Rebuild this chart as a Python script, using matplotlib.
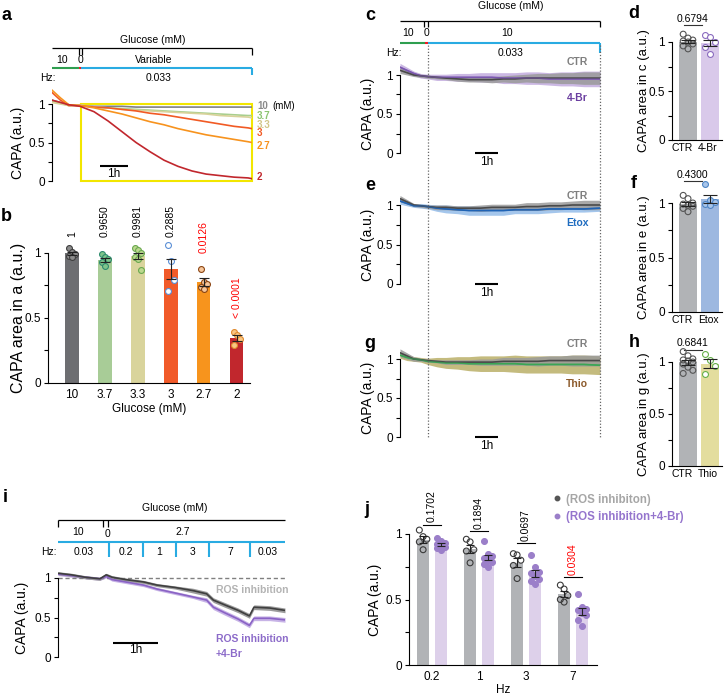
import numpy as np
import matplotlib
matplotlib.use('Agg')
import matplotlib.pyplot as plt
from matplotlib.lines import Line2D
from matplotlib.patches import Rectangle
from matplotlib.transforms import blended_transform_factory, ScaledTranslation

plt.rcParams['font.family'] = ['Liberation Sans', 'DejaVu Sans']
plt.rcParams['font.size'] = 8
plt.rcParams['axes.linewidth'] = 0.8

# ---------------- data ----------------
# a: CAPA traces, glucose steps (mM), time in hours
a_time = [0, 0.3, 0.6, 1.0, 1.5, 2.0, 2.5, 3.0, 3.5, 4.0, 4.5, 5.0, 5.5, 6.0, 6.5, 7.0, 7.14]
a_g10 = [1.05, 1.02, 0.99, 0.98, 0.97, 0.97, 0.97, 0.96, 0.96, 0.96, 0.96, 0.96, 0.96, 0.96, 0.96, 0.96, 0.96]
a_g37 = [1.03, 1.01, 0.98, 0.98, 0.96, 0.95, 0.94, 0.93, 0.92, 0.91, 0.90, 0.89, 0.88, 0.87, 0.86, 0.85, 0.85]
a_g33 = [1.02, 1.00, 0.98, 0.99, 0.96, 0.95, 0.93, 0.92, 0.91, 0.90, 0.89, 0.88, 0.87, 0.85, 0.84, 0.83, 0.82]
a_g3 = [1.15, 1.05, 0.98, 0.98, 0.96, 0.95, 0.93, 0.91, 0.88, 0.86, 0.83, 0.80, 0.77, 0.74, 0.71, 0.69, 0.68]
a_g27 = [1.18, 1.08, 0.99, 0.98, 0.95, 0.91, 0.87, 0.82, 0.77, 0.73, 0.68, 0.64, 0.60, 0.57, 0.54, 0.51, 0.50]
a_g2 = [1.05, 1.02, 0.99, 0.97, 0.90, 0.78, 0.64, 0.50, 0.38, 0.27, 0.19, 0.13, 0.09, 0.07, 0.05, 0.04, 0.03]
a_switch = 1.04

# b: CAPA area per glucose
b_labels = ['10', '3.7', '3.3', '3', '2.7', '2']
b_points = [
    [1.04, 1.01, 0.99, 0.98, 0.97],
    [0.99, 0.97, 0.95, 0.93, 0.90],
    [1.04, 1.02, 1.00, 0.97, 0.95, 0.87],
    [1.06, 0.94, 0.79, 0.71],
    [0.88, 0.78, 0.76, 0.74, 0.72],
    [0.39, 0.37, 0.34, 0.29],
]
b_pvals = ['1', '0.9650', '0.9981', '0.2885', '0.0126', '< 0.0001']

# c, e, g: CTR vs treatment traces
ceg_time = [0, 0.3, 0.6, 0.9, 1.2, 1.6, 2.0, 2.5, 3.0, 3.5, 4.0, 4.5, 5.0, 5.5, 6.0, 6.5, 7.0, 7.5, 8.0, 8.7]
c_ctr = [1.06, 1.03, 1.00, 0.99, 0.98, 0.97, 0.96, 0.95, 0.94, 0.94, 0.94, 0.95, 0.95, 0.96, 0.96, 0.96, 0.96, 0.96, 0.96, 0.96]
c_ctr_sem = [0.04, 0.03, 0.02, 0.02, 0.02, 0.02, 0.02, 0.03, 0.03, 0.03, 0.04, 0.04, 0.05, 0.05, 0.06, 0.06, 0.07, 0.07, 0.08, 0.08]
c_br = [1.10, 1.06, 1.02, 0.99, 0.98, 0.97, 0.97, 0.97, 0.97, 0.97, 0.97, 0.96, 0.96, 0.96, 0.96, 0.95, 0.95, 0.95, 0.95, 0.95]
c_br_sem = [0.05, 0.04, 0.03, 0.03, 0.03, 0.04, 0.04, 0.05, 0.05, 0.06, 0.06, 0.07, 0.07, 0.08, 0.08, 0.08, 0.09, 0.09, 0.10, 0.10]
e_ctr = [1.08, 1.04, 1.00, 0.99, 0.98, 0.97, 0.97, 0.96, 0.96, 0.96, 0.97, 0.97, 0.97, 0.98, 0.98, 0.99, 0.99, 1.00, 1.00, 1.00]
e_ctr_sem = [0.04, 0.03, 0.02, 0.02, 0.02, 0.03, 0.03, 0.03, 0.03, 0.04, 0.04, 0.04, 0.04, 0.05, 0.05, 0.05, 0.05, 0.05, 0.06, 0.06]
e_etox = [1.05, 1.02, 0.99, 0.99, 0.98, 0.96, 0.95, 0.94, 0.93, 0.93, 0.93, 0.93, 0.94, 0.94, 0.94, 0.95, 0.95, 0.95, 0.95, 0.96]
e_etox_sem = [0.04, 0.03, 0.02, 0.03, 0.03, 0.04, 0.05, 0.05, 0.06, 0.06, 0.06, 0.06, 0.05, 0.05, 0.05, 0.05, 0.04, 0.04, 0.04, 0.04]
g_ctr = [1.08, 1.04, 1.00, 0.99, 0.98, 0.97, 0.96, 0.96, 0.96, 0.96, 0.96, 0.97, 0.97, 0.97, 0.97, 0.98, 0.98, 0.98, 0.98, 0.98]
g_ctr_sem = [0.05, 0.04, 0.03, 0.02, 0.02, 0.02, 0.03, 0.03, 0.03, 0.04, 0.04, 0.05, 0.05, 0.05, 0.06, 0.06, 0.06, 0.07, 0.07, 0.07]
g_thio = [1.05, 1.02, 1.00, 0.99, 0.97, 0.96, 0.95, 0.95, 0.94, 0.94, 0.94, 0.94, 0.94, 0.93, 0.93, 0.93, 0.93, 0.93, 0.93, 0.92]
g_thio_sem = [0.04, 0.04, 0.03, 0.03, 0.04, 0.06, 0.07, 0.08, 0.09, 0.10, 0.10, 0.10, 0.11, 0.11, 0.11, 0.11, 0.11, 0.12, 0.12, 0.12]
ceg_switch = 1.22

# d, f, h: CAPA area CTR vs treatment
d_ctr = [1.08, 1.04, 1.02, 1.01, 1.00, 0.98, 0.96, 0.93]
d_br = [1.07, 1.05, 1.00, 0.95, 0.88]
f_ctr = [1.07, 1.04, 1.00, 0.99, 0.98, 0.97, 0.95, 0.92]
f_etox = [1.17, 1.03, 1.01, 0.99, 0.98]
h_ctr = [1.10, 1.06, 1.03, 1.02, 1.01, 1.00, 0.98, 0.95, 0.92, 0.89]
h_thio = [1.08, 1.02, 0.96, 0.88]
dfh_pvals = ['0.6794', '0.4300', '0.6841']

# i: frequency steps at 2.7 mM glucose
i_time = [0, 0.3, 0.6, 0.93, 1.07, 1.2, 1.5, 1.9, 2.2, 2.6, 3.0, 3.3, 3.45, 3.7, 4.0, 4.25, 4.35, 4.7, 5.04]
i_ros = [1.06, 1.04, 1.01, 0.99, 1.04, 1.01, 0.98, 0.95, 0.91, 0.88, 0.84, 0.80, 0.72, 0.66, 0.59, 0.52, 0.63, 0.62, 0.59]
i_ros_sem = [0.02, 0.02, 0.02, 0.02, 0.02, 0.02, 0.02, 0.02, 0.02, 0.02, 0.03, 0.03, 0.03, 0.03, 0.03, 0.03, 0.03, 0.03, 0.03]
i_br = [1.05, 1.03, 1.01, 0.99, 1.02, 0.98, 0.95, 0.91, 0.86, 0.81, 0.76, 0.72, 0.63, 0.56, 0.48, 0.40, 0.49, 0.49, 0.47]
i_br_sem = [0.02, 0.02, 0.02, 0.02, 0.02, 0.02, 0.02, 0.02, 0.02, 0.02, 0.02, 0.03, 0.03, 0.03, 0.03, 0.03, 0.03, 0.03, 0.03]
i_edges = [0, 1.13, 1.89, 2.62, 3.36, 4.27, 5.04]
i_hz = ['0.03', '0.2', '1', '3', '7', '0.03']

# j: CAPA per frequency
j_hz = ['0.2', '1', '3', '7']
j_ros = [
    [1.03, 0.98, 0.96, 0.94, 0.88],
    [0.96, 0.94, 0.88, 0.87, 0.78],
    [0.85, 0.84, 0.80, 0.76, 0.66],
    [0.61, 0.58, 0.53, 0.50, 0.48],
]
j_br = [
    [0.97, 0.95, 0.93, 0.92, 0.91, 0.90, 0.89, 0.88],
    [0.95, 0.85, 0.83, 0.82, 0.80, 0.79, 0.77, 0.75],
    [0.84, 0.75, 0.71, 0.70, 0.68, 0.66, 0.64, 0.62],
    [0.54, 0.44, 0.43, 0.42, 0.40, 0.38, 0.34, 0.30],
]
j_pvals = ['0.1702', '0.1894', '0.0697', '0.0304']

# ---------------- layout helpers ----------------
W, H = 724, 697
fig = plt.figure(figsize=(W / 100, H / 100), dpi=100)
CYAN, GREEN, RED = '#29abe2', '#2e9e4f', '#ed1c24'


def place(x_px, xlim, y_cal, ylim, trace=True):
    p0, p1 = y_cal
    ppu = p0 - p1
    bot = p0 - ylim[0] * ppu
    top = p0 - ylim[1] * ppu
    ax = fig.add_axes([x_px[0] / W, 1 - bot / H, (x_px[1] - x_px[0]) / W, (bot - top) / H])
    ax.set_xlim(xlim)
    ax.set_ylim(ylim)
    ax.patch.set_visible(False)
    for s in ['top', 'right']:
        ax.spines[s].set_visible(False)
    ax.spines['left'].set_bounds(0, 1)
    ax.set_yticks([0, 0.5, 1])
    ax.set_yticklabels(['0', '0.5', '1'])
    ax.set_yticks([0.25, 0.75], minor=True)
    ax.tick_params(axis='y', which='both', length=3, width=0.8, labelsize=8.5, pad=2)
    if trace:
        ax.spines['bottom'].set_visible(False)
        ax.set_xticks([])
    else:
        ax.tick_params(axis='x', length=0, labelsize=8.5, pad=4)
    return ax


def ylab(ax, text, x_px, size):
    pos = ax.get_position()
    y0, y1 = ax.get_ylim()
    ax.set_ylabel(text, fontsize=size)
    ax.yaxis.set_label_coords((x_px / W - pos.x0) / pos.width, (0.5 - y0) / (y1 - y0))


def header(ax, top, bot):
    pos = ax.get_position()
    hx = fig.add_axes([pos.x0, 1 - bot / H, pos.width, (bot - top) / H])
    hx.set_xlim(ax.get_xlim())
    hx.set_ylim(bot, top)
    hx.axis('off')
    return hx


def hline(hx, x0, x1, y, color='black', lw=0.9):
    hx.plot([x0, x1], [y, y], color=color, lw=lw, clip_on=False, solid_capstyle='butt')


def vline(hx, x, y0, y1, color='black', lw=0.9):
    hx.plot([x, x], [y0, y1], color=color, lw=lw, clip_on=False, solid_capstyle='butt')


def letter(x, y, s):
    fig.text(x / W, 1 - y / H, s, fontsize=13, fontweight='bold', ha='center', va='center')


def band(ax, t, m, s, lc, fc, alpha=1.0):
    m = np.array(m)
    s = np.array(s)
    ax.fill_between(t, m - s, m + s, color=fc, lw=0, alpha=alpha)
    ax.plot(t, m, color=lc, lw=1.2)


def scalebar(ax, t0, y, ytxt):
    ax.plot([t0, t0 + 1], [y, y], color='black', lw=1.5, clip_on=False, solid_capstyle='butt')
    ax.text(t0 + 0.5, ytxt, '1h', ha='center', va='center', fontsize=8.5, clip_on=False)


def bar_pts(ax, x, vals, color, width, face, edge, spread, cap=3.5):
    v = np.array(vals)
    m = v.mean()
    se = v.std(ddof=1) / np.sqrt(len(v))
    ax.bar(x, m, width, color=color, zorder=1)
    offs = ((np.arange(len(v)) % 3) - 1) * spread
    ax.scatter(x + offs, v, s=18, facecolors=face, edgecolors=edge, linewidths=0.8, zorder=3, clip_on=False)
    ax.errorbar(x, m, yerr=se, fmt='none', ecolor='#222222', elinewidth=0.8, capsize=cap, capthick=0.8, zorder=4)


# ---------------- panel a ----------------
ax_a = place((52, 252), (0, 7.14), (181, 104), (0, 1.25))
a_end = 7.14
ax_a.add_patch(Rectangle((a_switch, 0), a_end - a_switch, 1, fill=False, ec='#f2e600', lw=1.5, zorder=1, clip_on=False))
a_series = [(a_g10, '#808285', '10'), (a_g37, '#a8cf8e', '3.7'), (a_g33, '#d8d29a', '3.3'),
            (a_g3, '#f15a24', '3'), (a_g27, '#f7931e', '2.7'), (a_g2, '#c1272d', '2')]
a_lab_y = [0.97, 0.84, 0.73, 0.62, 0.45, 0.05]
a_lab_c = ['#8a8a8a', '#8dc472', '#d2c688', '#f15a24', '#f7931e', '#c1272d']
for (vals, col, lab), ly, lc in zip(a_series, a_lab_y, a_lab_c):
    ax_a.plot(a_time, vals, color=col, lw=1.2, zorder=2)
    ax_a.text(a_end + 0.18, ly, lab, color=lc, fontsize=7, fontweight='bold', va='center', clip_on=False)
ax_a.text(a_end + 0.72, 0.97, '(mM)', fontsize=7, va='center', clip_on=False)
scalebar(ax_a, 1.71, 0.19, 0.09)
ylab(ax_a, 'CAPA (a.u.)', 25, 10)

ha = header(ax_a, 30, 82)
ha.text(3.6, 40, 'Glucose (mM)', ha='center', va='center', fontsize=7.5)
hline(ha, 0, a_end, 48)
vline(ha, a_end, 48, 55)
vline(ha, 0.96, 48, 55)
vline(ha, 1.07, 48, 55)
ha.text(0.36, 60, '10', ha='center', va='center', fontsize=7.5)
ha.text(1.0, 60, '0', ha='center', va='center', fontsize=7.5)
ha.text(3.64, 60, 'Variable', ha='center', va='center', fontsize=7.5)
hline(ha, 0, 0.96, 68, GREEN, 1.5)
hline(ha, 0.96, a_switch, 68, RED, 1.5)
hline(ha, a_switch, a_end, 68, CYAN, 1.5)
vline(ha, a_end, 68, 75, CYAN, 1.5)
ha.text(-0.14, 78, 'Hz:', ha='center', va='center', fontsize=7.5)
ha.text(3.8, 78, '0.033', ha='center', va='center', fontsize=7.5)
letter(6, 15, 'a')

# ---------------- panel b ----------------
ax_b = place((48, 250), (-0.73, 5.4), (383, 253), (0, 1.25), trace=False)
b_cols = ['#6d6e71', '#a8cc97', '#d9d49c', '#f15a29', '#f7941d', '#c1272d']
b_face = ['#8c8c8c', '#7fc48a', '#bcd98e', 'white', '#f6c79c', '#f9c784']
b_edge = ['#404040', '#2e8b6e', '#6aa84f', '#5b8fd6', '#8b4513', '#e08a2e']
for k, pts in enumerate(b_points):
    bar_pts(ax_b, k, pts, b_cols[k], 0.4, b_face[k], b_edge[k], 0.09)
b_p_y = [1.12, 1.12, 1.12, 1.12, 1.0, 0.5]
for k, (p, py) in enumerate(zip(b_pvals, b_p_y)):
    ax_b.text(k, py, p, rotation=90, ha='center', va='bottom', fontsize=7.5,
              color='#ff0000' if k >= 4 else 'black', clip_on=False)
ax_b.set_xticks(range(len(b_labels)))
ax_b.set_xticklabels(b_labels)
ax_b.set_xlabel('Glucose (mM)', fontsize=8.5, labelpad=2)
ylab(ax_b, 'CAPA area in a (a.u.)', 26, 11.5)
letter(6, 217, 'b')

# ---------------- panels c, e, g ----------------
ceg = [
    ('c', (153, 75), c_ctr, c_ctr_sem, c_br, c_br_sem, '#7b57b0', '#cbb8e3', '4-Br', '#6b3fa0', 1.17, 0.71, 15),
    ('e', (284, 205), e_ctr, e_ctr_sem, e_etox, e_etox_sem, '#1f63b5', '#a4c6ec', 'Etox', '#1f6cc0', 1.11, 0.77, 185),
    ('g', (437, 359), g_ctr, g_ctr_sem, g_thio, g_thio_sem, '#3aa655', '#c4bb7e', 'Thio', '#8c5a2b', 1.19, 0.68, 343),
]
ceg_axes = []
for name, cal, ctr, ctr_s, trt, trt_s, lc, fc, tname, tcol, cy, ty, ly in ceg:
    ax = place((400, 600), (0, 8.7), cal, (0, 1.2))
    band(ax, ceg_time, trt, trt_s, lc, fc)
    m = np.array(ctr)
    s = np.array(ctr_s)
    ax.fill_between(ceg_time, m - s, m + s, color='#9a9a9a', lw=0, alpha=0.85)
    ax.plot(ceg_time, ctr, color='#4a4a4a', lw=1.2)
    ax.plot(ceg_time, trt, color=lc, lw=1.0, alpha=0.6)
    ax.text(7.7, cy, 'CTR', color='#7f7f7f', fontsize=7.5, fontweight='bold', ha='center', va='center')
    ax.text(7.7, ty, tname, color=tcol, fontsize=7.5, fontweight='bold', ha='center', va='center')
    scalebar(ax, 3.26, 0, -0.115)
    ylab(ax, 'CAPA (a.u.)', 375, 10)
    letter(370, ly, name)
    ceg_axes.append(ax)

ax_c = ceg_axes[0]
c_end = 8.7
hc = header(ax_c, 0, 60)
hc.text(4.8, 6, 'Glucose (mM)', ha='center', va='center', fontsize=7.5)
hline(hc, 0, c_end, 21)
vline(hc, c_end, 21, 27)
vline(hc, 1.06, 21, 27)
vline(hc, 1.2, 21, 27)
hc.text(0.35, 33, '10', ha='center', va='center', fontsize=7.5)
hc.text(1.17, 33, '0', ha='center', va='center', fontsize=7.5)
hc.text(4.65, 33, '10', ha='center', va='center', fontsize=7.5)
hline(hc, 0, 1.1, 43, GREEN, 1.5)
hline(hc, 1.1, ceg_switch, 43, RED, 1.5)
hline(hc, ceg_switch, c_end, 43, CYAN, 1.5)
vline(hc, c_end, 43, 53, CYAN, 1.5)
hc.text(-0.26, 53, 'Hz:', ha='center', va='center', fontsize=7.5)
hc.text(4.8, 53, '0.033', ha='center', va='center', fontsize=7.5)

tr = blended_transform_factory(ax_c.transData, fig.transFigure)
for t in [ceg_switch, c_end]:
    fig.add_artist(Line2D([t, t], [1 - 45 / H, 1 - 438 / H], transform=tr, color='#666666',
                          lw=0.9, ls=(0, (1, 1.5))))

# ---------------- panels d, f, h ----------------
dfh = [
    ('d', (140, 42), d_ctr, d_br, '#d9c9ea', 'white', '#8a6bbf', ['CTR', '4-Br'], 'c', 1.17, 13),
    ('f', (312, 203), f_ctr, f_etox, '#9db8e0', '#a9c6ea', '#4f86c6', ['CTR', 'Etox'], 'e', 1.2, 184),
    ('h', (466, 362), h_ctr, h_thio, '#e3dd9e', 'white', '#66b04a', ['CTR', 'Thio'], 'g', 1.12, 342),
]
for (name, cal, ctr, trt, tcol, tface, tedge, xl, src, ply, ly), p in zip(dfh, dfh_pvals):
    ax = place((672, 722), (-0.73, 1.55), cal, (0, 1.25), trace=False)
    bar_pts(ax, 0, ctr, '#b1b3b6', 0.86, 'none', '#555555', 0.22, cap=5)
    bar_pts(ax, 1, trt, tcol, 0.86, tface, tedge, 0.22, cap=5)
    ax.plot([-0.2, 0.65], [ply, ply], color='#333333', lw=0.8, clip_on=False)
    ax.text(0.22, ply + 0.01, p, ha='center', va='bottom', fontsize=7.5, clip_on=False)
    ax.set_xticks([0, 1])
    ax.set_xticklabels(xl)
    ax.tick_params(axis='x', pad=2, labelsize=7.5)
    for lab, dx in zip(ax.get_xticklabels(), [-6, -2]):
        lab.set_transform(lab.get_transform() + ScaledTranslation(dx / 100, 0, fig.dpi_scale_trans))
    ylab(ax, 'CAPA area in %s (a.u.)' % src, 650, 9.5)
    letter(634, ly, name)

# ---------------- panel i ----------------
ax_i = place((58, 285), (0, 5.04), (657, 578), (0, 1.12))
i_end = i_edges[-1]
ax_i.plot([0, i_end], [1, 1], color='#808080', lw=1.0, ls=(0, (3, 2)))
band(ax_i, i_time, i_br, i_br_sem, '#8a63c5', '#c7b3e6')
band(ax_i, i_time, i_ros, i_ros_sem, '#3f3f3f', '#9c9c9c')
ax_i.text(4.31, 0.85, 'ROS inhibition', color='#b3b3b3', fontsize=7.5, fontweight='bold', ha='center', va='center')
ax_i.text(3.51, 0.23, 'ROS inhibition', color='#8c6bc9', fontsize=7.5, fontweight='bold', ha='left', va='center')
ax_i.text(3.51, 0.04, '+4-Br', color='#8c6bc9', fontsize=7.5, fontweight='bold', ha='left', va='center')
scalebar(ax_i, 1.22, 0.18, 0.09)
ylab(ax_i, 'CAPA (a.u.)', 29, 10)

hi = header(ax_i, 495, 562)
hi.text(2.6, 508, 'Glucose (mM)', ha='center', va='center', fontsize=7.5)
hline(hi, 0, i_end, 520)
vline(hi, 0, 520, 527)
vline(hi, 1.0, 520, 527)
vline(hi, 1.11, 520, 527)
hi.text(0.44, 532, '10', ha='center', va='center', fontsize=7.5)
hi.text(1.09, 534, '0', ha='center', va='center', fontsize=7.5)
hi.text(2.76, 532, '2.7', ha='center', va='center', fontsize=7.5)
hline(hi, 0, i_end, 542, CYAN, 1.5)
for e in i_edges[1:-1]:
    vline(hi, e, 542, 557, CYAN, 1.5)
hi.text(-0.2, 552, 'Hz:', ha='center', va='center', fontsize=7.5)
for k, hz in enumerate(i_hz):
    hi.text((i_edges[k] + i_edges[k + 1]) / 2, 552, hz, ha='center', va='center', fontsize=7.5)
letter(5, 497, 'i')

# ---------------- panel j ----------------
ax_j = place((409, 597), (-0.49, 3.51), (665, 534), (0, 1.1), trace=False)
for k in range(len(j_hz)):
    bar_pts(ax_j, k - 0.19, j_ros[k], '#b1b3b6', 0.26, 'none', '#3a3a3a', 0.08, cap=3)
    bar_pts(ax_j, k + 0.19, j_br[k], '#ddd0ea', 0.26, '#9b7fc9', '#9b7fc9', 0.08, cap=3)
j_line_y = [1.07, 1.02, 0.93, 0.67]
for k, (p, ly) in enumerate(zip(j_pvals, j_line_y)):
    ax_j.plot([k - 0.19, k + 0.19], [ly, ly], color='black', lw=0.8, clip_on=False)
    ax_j.text(k, ly + 0.02, p, rotation=90, ha='center', va='bottom', fontsize=7.5,
              color='#ff0000' if k == 3 else 'black', clip_on=False)
ax_j.set_xticks(range(len(j_hz)))
ax_j.set_xticklabels(j_hz)
ax_j.set_xlabel('Hz', fontsize=8.5, labelpad=1)
ylab(ax_j, 'CAPA (a.u.)', 382, 10)
handles = [Line2D([], [], marker='o', ls='none', ms=3.2, mfc='#555555', mec='#555555'),
           Line2D([], [], marker='o', ls='none', ms=3.2, mfc='#9b7fc9', mec='#9b7fc9')]
leg = ax_j.legend(handles, ['(ROS inhibiton)', '(ROS inhibition+4-Br)'], loc='upper left',
                  bbox_to_anchor=(0.77, 1.19), frameon=False, handlelength=0.6, handletextpad=0.5,
                  labelspacing=0.5, borderaxespad=0, borderpad=0,
                  prop={'weight': 'bold', 'size': 8.3})
for txt, col in zip(leg.get_texts(), ['#a6a6a6', '#9575cd']):
    txt.set_color(col)
letter(367, 510, 'j')

fig.savefig('out.png', dpi=100)
